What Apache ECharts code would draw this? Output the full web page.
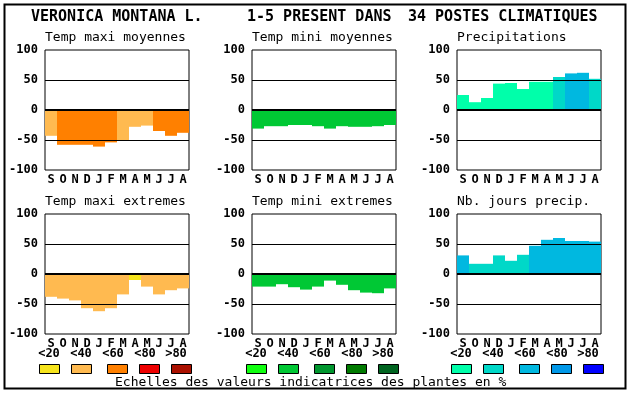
<!DOCTYPE html>
<html><head><meta charset="utf-8">
<script src="https://cdn.jsdelivr.net/npm/echarts@6.0.0/dist/echarts.min.js"></script>
<style>html,body{margin:0;padding:0;background:#fff}#c{width:630px;height:394px}</style>
</head><body><div id="c"></div><script>
const months = ['S','O','N','D','J','F','M','A','M','J','J','A'];
const yTicks = [-100,-50,0,50,100];
const legendLabels = ['<20','<40','<60','<80','>80'];
const titleParts = ['VERONICA MONTANA L.','1-5 PRESENT DANS','34 POSTES CLIMATIQUES'];
const footerText = 'Echelles des valeurs indicatrices des plantes en %';
const panelTitles = ['Temp maxi moyennes','Temp mini moyennes','Precipitations','Temp maxi extremes','Temp mini extremes','Nb. jours precip.'];

const warmColors  = ['#f6e41c','#ffba50','#ff8000','#ee0000','#aa1000'];
const greenColors = ['#10ff10','#00c834','#00962e','#007a00','#006420'];
const blueColors  = ['#00ffaa','#00d8c8','#00b8e0','#0098e8','#0000ff'];

const tMaxMoy     = [-43,-58,-58,-58,-61,-54,-50,-28,-26,-35,-43,-38];
const tMaxMoyCls  = [1,2,2,2,2,2,1,1,1,2,2,2];
const tMinMoy     = [-31,-27,-27,-25,-25,-27,-31,-27,-28,-28,-27,-25];
const tMinMoyCls  = [1,1,1,1,1,1,1,1,1,1,1,1];
const precip      = [25,13,20,44,45,35,47,47,55,61,62,52];
const precipCls   = [0,0,0,0,0,0,0,0,1,2,2,1];
const tMaxExt     = [-38,-41,-44,-57,-62,-57,-34,-10,-21,-34,-27,-24];
const tMaxExtCls  = [1,1,1,1,1,1,1,0,1,1,1,1];
const tMinExt     = [-21,-21,-17,-22,-26,-21,-11,-18,-27,-31,-32,-24];
const tMinExtCls  = [1,1,1,1,1,1,1,1,1,1,1,1];
const nbJours     = [31,17,17,31,22,32,47,57,60,55,55,54];
const nbJoursCls  = [2,1,1,1,1,1,2,2,2,2,2,2];

const panels = [
  {vals:tMaxMoy, cls:tMaxMoyCls, pal:warmColors},
  {vals:tMinMoy, cls:tMinMoyCls, pal:greenColors},
  {vals:precip,  cls:precipCls,  pal:blueColors},
  {vals:tMaxExt, cls:tMaxExtCls, pal:warmColors},
  {vals:tMinExt, cls:tMinExtCls, pal:greenColors},
  {vals:nbJours, cls:nbJoursCls, pal:blueColors}
];
const colLeft = [45,252,457];
const rowTop = [50,214];
const W = 144, H = 120;
const MONO = "'DejaVu Sans Mono', 'Liberation Mono', monospace";

const grid=[], xAxis=[], yAxis=[], series=[], graphic=[];
panels.forEach((p,i)=>{
  const c=i%3, r=Math.floor(i/3);
  grid.push({left:colLeft[c], top:rowTop[r], width:W, height:H, show:true, borderColor:'#000', borderWidth:1, backgroundColor:'#fff'});
  xAxis.push({type:'category', gridIndex:i, data:months, boundaryGap:true,
    axisLine:{show:false}, axisTick:{show:false}, splitLine:{show:false},
    axisLabel:{color:'#000', fontFamily:MONO, fontWeight:'bold', fontSize:12, margin:4, interval:0}});
  yAxis.push({type:'value', gridIndex:i, min:yTicks[0], max:yTicks[yTicks.length-1], interval:50,
    axisLine:{show:false}, axisTick:{show:false}, splitLine:{show:false},
    axisLabel:{color:'#000', fontFamily:MONO, fontWeight:'bold', fontSize:12, margin:7}});
  series.push({type:'bar', xAxisIndex:i, yAxisIndex:i, barWidth:'100%', barCategoryGap:0,
    data:p.vals.map((v,k)=>({value:v, itemStyle:{color:p.pal[p.cls[k]]}})),
    markLine:{silent:true, symbol:'none', label:{show:false}, z:5,
      data:[{yAxis:50, lineStyle:{color:'#000',width:1,type:'solid'}},
            {yAxis:-50, lineStyle:{color:'#000',width:1,type:'solid'}},
            {yAxis:0, lineStyle:{color:'#000',width:2,type:'solid'}}]}});
  graphic.push({type:'text', left:colLeft[c], top:(r===0?39:203)-8,
    style:{text:panelTitles[i], fill:'#000', font:'13px '+MONO}});
});

// title
[31,247,408].forEach((x,k)=>{
  graphic.push({type:'text', left:x, top:10, style:{text:titleParts[k], fill:'#000', font:'bold 15px '+MONO}});
});
// legends
const palettes=[warmColors, greenColors, blueColors];
const labOff=[4,36,68,100,131], boxOff=[-6,26,62,94,126];
colLeft.forEach((x0,c)=>{
  legendLabels.forEach((lab,k)=>{
    graphic.push({type:'text', x:x0+labOff[k], y:354, style:{text:lab, fill:'#000', font:'bold 12px '+MONO, textAlign:'center', textVerticalAlign:'middle'}});
    graphic.push({type:'rect', shape:{x:x0+boxOff[k]+0.5, y:364.5, width:20, height:9}, style:{fill:palettes[c][k], stroke:'#000', lineWidth:1}});
  });
});
graphic.push({type:'text', x:115, y:383, style:{text:footerText, fill:'#000', font:'13px '+MONO, textVerticalAlign:'middle'}});
graphic.push({type:'rect', shape:{x:4.5, y:4.5, width:621, height:384}, style:{fill:'none', stroke:'#000', lineWidth:2}, z:-1});

const chart = echarts.init(document.getElementById('c'), null, {renderer:'canvas'});
chart.setOption({animation:false, backgroundColor:'#fff', grid, xAxis, yAxis, series, graphic});
</script></body></html>
